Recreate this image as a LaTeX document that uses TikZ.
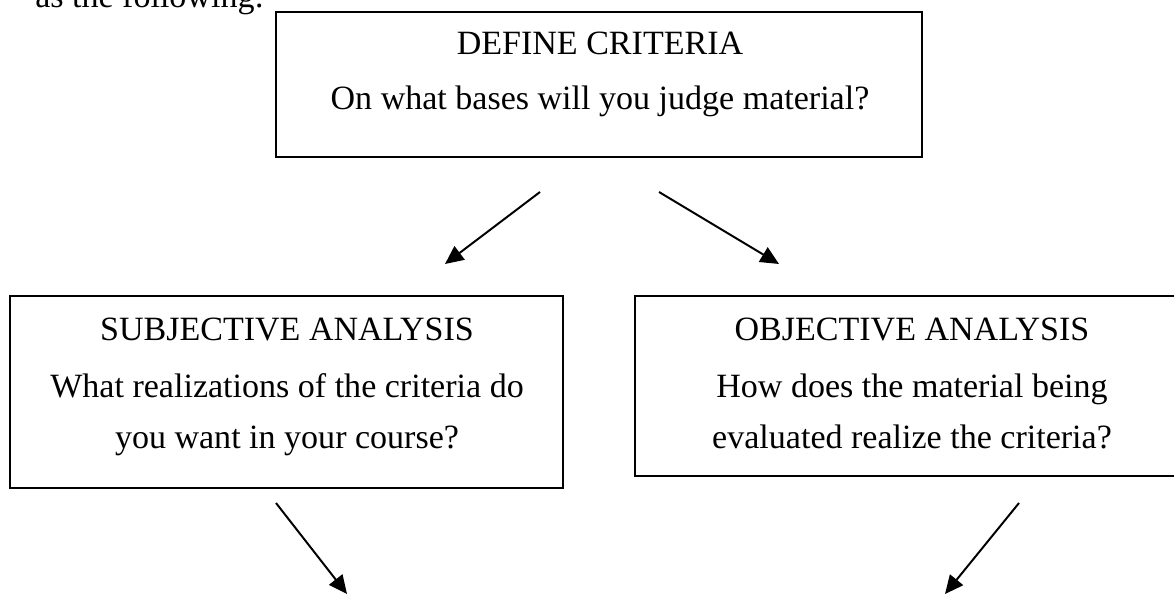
\documentclass[tikz,border=0pt]{standalone}
\usepackage{fontspec}
\setmainfont{Liberation Serif}
\usetikzlibrary{arrows.meta}
\tikzset{
  boxnode/.style={draw=black, line width=1.3pt, rectangle, inner sep=0pt},
  txt/.style={anchor=base, inner sep=0pt, font=\fontsize{24.2}{29}\selectfont},
  arr/.style={draw=black, line width=1.4pt, -{Triangle[length=0.46cm, width=0.42cm]}}
}
\begin{document}
\begin{tikzpicture}[x=0.025cm, y=-0.025cm]
\useasboundingbox (0,0) rectangle (1174,596);
% leading text (partly cut off at the top)
\node[txt, anchor=base west] (lead) at (35,8) {as the following:};
% boxes
\node[boxnode, minimum width=16.15cm, minimum height=3.625cm] (top) at (599,84.5) {};
\node[boxnode, minimum width=13.825cm, minimum height=4.8cm] (left) at (286.5,392) {};
\node[boxnode, minimum width=13.625cm, minimum height=4.5cm] (right) at (907.5,386) {};
% texts
\node[txt] (t1) at (600,55) {DEFINE CRITERIA};
\node[txt] (t2) at (600,110) {On what bases will you judge material?};
\node[txt] (l1) at (287,340) {SUBJECTIVE ANALYSIS};
\node[txt] (l2) at (287,397) {What realizations of the criteria do};
\node[txt] (l3) at (287,448) {you want in your course?};
\node[txt] (r1) at (912,340) {OBJECTIVE ANALYSIS};
\node[txt] (r2) at (912,397) {How does the material being};
\node[txt] (r3) at (912,448) {evaluated realize the criteria?};
% arrow end points
\coordinate (a1s) at (540,192);
\coordinate (a1e) at (445,264);
\coordinate (a2s) at (659,192);
\coordinate (a2e) at (779,264);
\coordinate (a3s) at (276,503);
\coordinate (a3e) at (347,594);
\coordinate (a4s) at (1019,503);
\coordinate (a4e) at (945,594);
\draw[arr] (a1s) -- (a1e);
\draw[arr] (a2s) -- (a2e);
\draw[arr] (a3s) -- (a3e);
\draw[arr] (a4s) -- (a4e);
\end{tikzpicture}
\end{document}
